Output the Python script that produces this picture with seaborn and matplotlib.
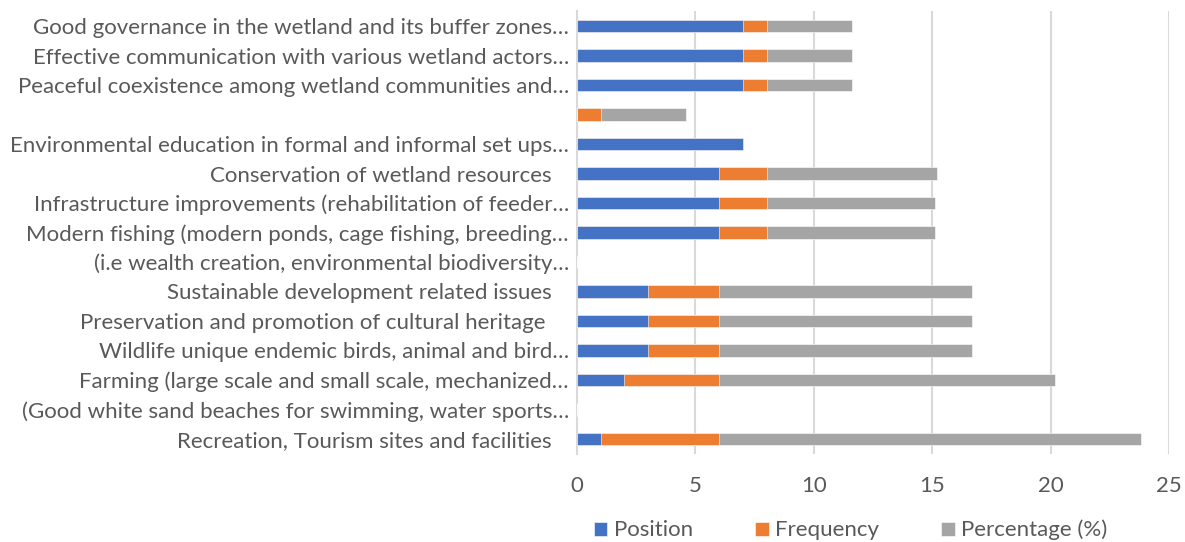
import numpy as np
import pandas as pd
import matplotlib.pyplot as plt
import seaborn as sns

## data, listed top to bottom
labels = [
    "Good governance in the wetland and its buffer zones…",
    "Effective communication with various wetland actors…",
    "Peaceful coexistence among wetland communities and…",
    "",
    "Environmental education in formal and informal set ups…",
    "Conservation of wetland resources   ",
    "Infrastructure improvements (rehabilitation of feeder…",
    "Modern fishing (modern ponds, cage fishing, breeding…",
    "(i.e wealth creation, environmental biodiversity…",
    "Sustainable development related issues   ",
    "Preservation and promotion of cultural heritage    ",
    "Wildlife unique endemic birds, animal and bird…",
    "Farming (large scale and small scale, mechanized…",
    "(Good white sand beaches for swimming, water sports…",
    "Recreation, Tourism sites and facilities   ",
]
position = [7, 7, 7, 0, 7, 6, 6, 6, 0, 3, 3, 3, 2, 0, 1]
frequency = [1, 1, 1, 1, 0, 2, 2, 2, 0, 3, 3, 3, 4, 0, 5]
percentage = [3.6, 3.6, 3.6, 3.6, 0, 7.2, 7.1, 7.1, 0, 10.7, 10.7, 10.7, 14.2, 0, 17.8]

df = pd.DataFrame(
    {"label": labels, "Position": position, "Frequency": frequency, "Percentage (%)": percentage}
)
df["pos_freq"] = df["Position"] + df["Frequency"]
df["total"] = df["pos_freq"] + df["Percentage (%)"]

## theme
sns.set_theme(style="white")
plt.rcParams["font.family"] = ["Lato", "DejaVu Sans"]
text_col = "#595959"
fs = 16

fig = plt.figure(figsize=(11.85, 5.42), dpi=100)
ax = fig.add_axes([0.487, 0.163, 0.4995, 0.816])

# stacked bars: draw cumulative totals back to front
bar_h = 0.42
sns.barplot(data=df, x="total", y="label", color="#A5A5A5", saturation=1,
            width=bar_h, orient="h", ax=ax, label="Percentage (%)", zorder=3)
sns.barplot(data=df, x="pos_freq", y="label", color="#ED7D31", saturation=1,
            width=bar_h, orient="h", ax=ax, label="Frequency", zorder=3)
sns.barplot(data=df, x="Position", y="label", color="#4472C4", saturation=1,
            width=bar_h, orient="h", ax=ax, label="Position", zorder=3)
for p in ax.patches:
    p.set_edgecolor("white")
    p.set_linewidth(0.4)

ax.set_xlim(0, 25)
ax.set_ylim(14.5, -0.5)
ax.set_xticks(np.arange(0, 26, 5))
ax.xaxis.grid(True, color="#d9d9d9", linewidth=1.5, zorder=0)
ax.set_axisbelow(True)
ax.set_xlabel("")
ax.set_ylabel("")
for s in ["top", "right", "bottom"]:
    ax.spines[s].set_visible(False)
ax.spines["left"].set_color("#d9d9d9")
ax.spines["left"].set_linewidth(1.5)
ax.tick_params(axis="x", length=0, pad=16, labelsize=fs, labelcolor=text_col)
ax.tick_params(axis="y", length=0, pad=6, labelsize=fs, labelcolor=text_col)

# legend in reference order
handles, names = ax.get_legend_handles_labels()
order = ["Position", "Frequency", "Percentage (%)"]
hmap = dict(zip(names, handles))
if ax.legend_:
    ax.legend_.remove()
fig.legend([hmap[n] for n in order], order, loc="lower center",
           bbox_to_anchor=(0.718, -0.034), ncol=3, frameon=False,
           handlelength=0.6, handleheight=0.6, handletextpad=0.3,
           columnspacing=2.8, fontsize=fs, labelcolor=text_col)

fig.savefig("out.png", dpi=100)
